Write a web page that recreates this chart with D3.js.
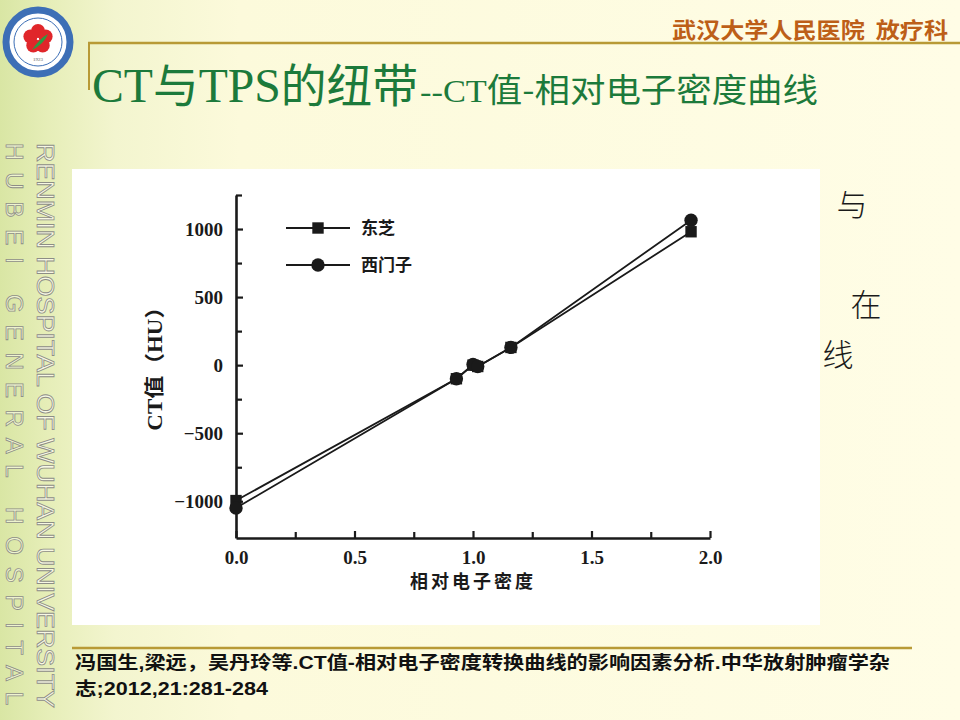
<!DOCTYPE html>
<html><head><meta charset="utf-8">
<script src="https://cdn.jsdelivr.net/npm/d3@7/dist/d3.min.js"></script>
<style>html,body{margin:0;padding:0;background:#fffde6;}svg{display:block;} .pre{white-space:pre;}</style>
</head><body>
<script>
// ---- data ----
const seriesNames = ["东芝", "西门子"];
const density = [0, 0.93, 1.0, 1.02, 1.16, 1.92];
const toshibaCT = [-995, -100, 0, -10, 130, 980];
const siemensCT = [-1050, -100, 5, -10, 130, 1065];
const xTickValues = [0, 0.5, 1.0, 1.5, 2.0];
const xTickLabels = ["0.0", "0.5", "1.0", "1.5", "2.0"];
const xMinorTicks = [0.25, 0.75, 1.25, 1.75];
const yTickValues = [-1000, -500, 0, 500, 1000];
const yMinorTicks = [-750, -250, 250, 750, 1250];
const xTitle = "相对电子密度";
const yTitle = "CT值（HU）";
const titleMain = ["CT", "与", "TPS", "的纽带"];
const titleSub = ["--CT", "值-", "相对电子密度曲线"];
const headerText = "武汉大学人民医院  放疗科";
const sideText1 = "RENMIN HOSPITAL OF WUHAN UNIVERSITY";
const sideText2 = "H U B E I   G E N E R A L   H O S P I T A L";
const citation1 = "冯国生,梁远，吴丹玲等.CT值-相对电子密度转换曲线的影响因素分析.中华放射肿瘤学杂";
const citation2 = "志;2012,21:281-284";
const fragments = [["与", 852, 216], ["在", 866, 316], ["线", 838, 366]];

const W = 960, H = 720;
const svg = d3.select("body").append("svg").attr("width", W).attr("height", H);
const defs = svg.append("defs");
const bg = defs.append("linearGradient").attr("id", "bg").attr("x1", "0").attr("x2", "1").attr("y1", "0").attr("y2", "0");
[[0, "#d9e6a4"], [0.05, "#e6eeb8"], [0.12, "#f3f5cf"], [0.25, "#fcfadb"], [1, "#fffde6"]].forEach(([o, c]) =>
  bg.append("stop").attr("offset", o).attr("stop-color", c));
svg.append("rect").attr("width", W).attr("height", H).attr("fill", "url(#bg)");

// ---- logo ----
const logo = svg.append("g").attr("transform", "translate(38,42)");
logo.append("circle").attr("r", 34).attr("fill", "#ffffff");
logo.append("circle").attr("r", 32).attr("fill", "none").attr("stroke", "#3d6fb6").attr("stroke-width", 7);
logo.append("circle").attr("r", 24).attr("fill", "none").attr("stroke", "#3d6fb6").attr("stroke-width", 1);
d3.range(5).forEach(i => {
  const a = -Math.PI / 2 + i * 2 * Math.PI / 5;
  logo.append("circle").attr("cx", 8 * Math.cos(a)).attr("cy", -3 + 8 * Math.sin(a)).attr("r", 7).attr("fill", "#e0262a");
});
logo.append("path").attr("d", "M-6,8 Q2,-4 10,-8 Q6,2 -6,8Z").attr("fill", "#2f9a44");
logo.append("text").attr("y", 19).attr("text-anchor", "middle").attr("font-size", 5).attr("fill", "#555").text("1923");

// ---- header ----
svg.append("text").attr("class", "pre").attr("x", 672).attr("y", 38)
  .attr("font-family", "Noto Sans CJK SC").attr("font-weight", 700).attr("font-size", 22)
  .attr("textLength", 276).attr("lengthAdjust", "spacingAndGlyphs")
  .attr("fill", "#bd5f18").text(headerText);
svg.append("line").attr("x1", 88).attr("x2", 960).attr("y1", 43).attr("y2", 43).attr("stroke", "#b89a36").attr("stroke-width", 2.5);
svg.append("line").attr("x1", 89).attr("x2", 89).attr("y1", 43).attr("y2", 90).attr("stroke", "#b89a36").attr("stroke-width", 2);

// ---- title ----
const serif = "Liberation Serif, serif", cjk = "Noto Sans CJK SC";
const title = svg.append("text").attr("x", 92).attr("y", 102).attr("fill", "#1c7a3b")
  .attr("textLength", 326).attr("lengthAdjust", "spacingAndGlyphs");
title.append("tspan").attr("font-family", serif).attr("font-size", 48).text(titleMain[0]);
title.append("tspan").attr("font-family", cjk).attr("font-size", 46).text(titleMain[1]);
title.append("tspan").attr("font-family", serif).attr("font-size", 48).text(titleMain[2]);
title.append("tspan").attr("font-family", cjk).attr("font-size", 46).text(titleMain[3]);
const sub = svg.append("text").attr("x", 420).attr("y", 102).attr("fill", "#1c7a3b")
  .attr("textLength", 398).attr("lengthAdjust", "spacingAndGlyphs");
sub.append("tspan").attr("font-family", serif).attr("font-size", 32).text(titleSub[0]);
sub.append("tspan").attr("font-family", cjk).attr("font-size", 33).text(titleSub[1]);
sub.append("tspan").attr("font-family", cjk).attr("font-size", 33).text(titleSub[2]);

// ---- side vertical texts ----
svg.append("text").attr("transform", "translate(37,143) rotate(90)")
  .attr("font-family", "Liberation Sans, Arial").attr("font-size", 24)
  .attr("fill", "#f7f8e4").attr("stroke", "#8d8d86").attr("stroke-width", 0.8)
  .attr("textLength", 565).attr("lengthAdjust", "spacingAndGlyphs").text(sideText1);
svg.append("text").attr("class", "pre").attr("transform", "translate(6,143) rotate(90)")
  .attr("font-family", "Liberation Sans, Arial").attr("font-size", 24)
  .attr("fill", "#eef3cf").attr("stroke", "#8d8d86").attr("stroke-width", 0.8)
  .attr("textLength", 562).attr("lengthAdjust", "spacing").text(sideText2);

// ---- text fragments on the right ----
svg.selectAll("text.frag").data(fragments).join("text").attr("class", "frag")
  .attr("x", d => d[1]).attr("y", d => d[2]).attr("text-anchor", "middle")
  .attr("font-family", cjk).attr("font-weight", 300).attr("font-size", 31).attr("fill", "#1a1a1a")
  .text(d => d[0]);

// ---- chart image area ----
svg.append("rect").attr("x", 72).attr("y", 169).attr("width", 748).attr("height", 456).attr("fill", "#ffffff");

const x = d3.scaleLinear().domain([0, 2]).range([236, 710]);
const y = d3.scaleLinear().domain([-1270, 1250]).range([538, 195]);
const chart = svg.append("g");
const ink = "#1a1a1a";

// y axis
chart.append("g").attr("transform", `translate(${x(0)},0)`)
  .call(d3.axisLeft(y).tickValues(yTickValues).tickSizeInner(-7).tickSizeOuter(0).tickPadding(13).tickFormat(d3.format("d")));
const yMinor = chart.append("g").attr("transform", `translate(${x(0)},0)`)
  .call(d3.axisLeft(y).tickValues(yMinorTicks).tickSizeInner(-6).tickSizeOuter(0).tickFormat(""));
yMinor.select(".domain").remove();
// x axis
const xAxis = chart.append("g").attr("transform", `translate(0,${y(-1270)})`)
  .call(d3.axisBottom(x).tickValues(xTickValues).tickSizeInner(-7).tickSizeOuter(0).tickPadding(12)
    .tickFormat((d, i) => xTickLabels[i]));
const xMinor = chart.append("g").attr("transform", `translate(0,${y(-1270)})`)
  .call(d3.axisBottom(x).tickValues(xMinorTicks).tickSizeInner(-6).tickSizeOuter(0).tickFormat(""));
xMinor.select(".domain").remove();

chart.selectAll(".domain").attr("stroke", ink).attr("stroke-width", 2.6);
chart.selectAll(".tick line").attr("stroke", ink).attr("stroke-width", 2.2);
chart.selectAll(".tick text").attr("fill", ink).attr("font-family", serif).attr("font-weight", 700).attr("font-size", 19);
xAxis.selectAll(".tick text").attr("dy", "0.75em");

// axis titles
chart.append("text").attr("x", x(1)).attr("y", 588).attr("text-anchor", "middle")
  .attr("font-family", cjk).attr("font-weight", 700).attr("font-size", 18).attr("fill", ink)
  .attr("letter-spacing", 3).text(xTitle);
chart.append("text").attr("transform", `translate(162,${y(0) - 2}) rotate(-90)`).attr("text-anchor", "middle")
  .attr("font-family", "Liberation Serif, Noto Sans CJK SC").attr("font-weight", 700).attr("font-size", 20).attr("fill", ink)
  .attr("textLength", 135).attr("lengthAdjust", "spacingAndGlyphs").text(yTitle);

// series
const series = [
  { name: seriesNames[0], values: toshibaCT, shape: d3.symbolSquare, size: 130 },
  { name: seriesNames[1], values: siemensCT, shape: d3.symbolCircle, size: 140 }
];
const line = d3.line().x(d => x(d[0])).y(d => y(d[1]));
series.forEach(s => {
  const pts = density.map((d, i) => [d, s.values[i]]);
  chart.append("path").datum(pts).attr("d", line).attr("fill", "none").attr("stroke", ink).attr("stroke-width", 1.8);
  chart.selectAll(null).data(pts).join("path")
    .attr("transform", d => `translate(${x(d[0])},${y(d[1])})`)
    .attr("d", d3.symbol().type(s.shape).size(s.size)).attr("fill", ink);
});

// legend
const legend = chart.append("g");
series.forEach((s, i) => {
  const ly = 228 + i * 37;
  legend.append("line").attr("x1", 286).attr("x2", 350).attr("y1", ly).attr("y2", ly).attr("stroke", ink).attr("stroke-width", 1.8);
  legend.append("path").attr("transform", `translate(318,${ly})`).attr("d", d3.symbol().type(s.shape).size(s.size)).attr("fill", ink);
  legend.append("text").attr("x", 361).attr("y", ly).attr("dy", "0.36em")
    .attr("font-family", cjk).attr("font-weight", 700).attr("font-size", 17).attr("fill", ink).text(s.name);
});

// ---- citation ----
svg.append("line").attr("x1", 72).attr("x2", 912).attr("y1", 648).attr("y2", 648).attr("stroke", "#b89a36").attr("stroke-width", 2.5);
svg.append("text").attr("x", 75).attr("y", 669).attr("font-family", "Liberation Sans, Noto Sans CJK SC").attr("font-weight", 700)
  .attr("font-size", 18).attr("fill", "#111").attr("textLength", 815).attr("lengthAdjust", "spacingAndGlyphs").text(citation1);
svg.append("text").attr("x", 75).attr("y", 695).attr("font-family", "Liberation Sans, Noto Sans CJK SC").attr("font-weight", 700)
  .attr("font-size", 18).attr("fill", "#111").attr("textLength", 193).attr("lengthAdjust", "spacingAndGlyphs").text(citation2);
</script>
</body></html>
